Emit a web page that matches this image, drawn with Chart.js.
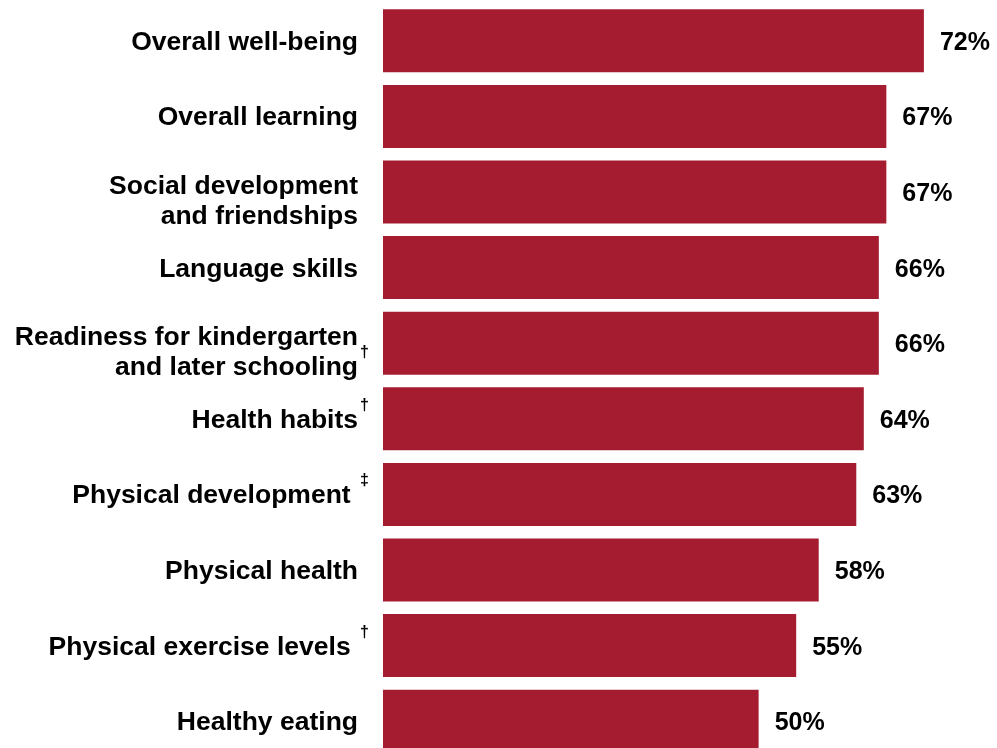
<!DOCTYPE html>
<html>
<head>
<meta charset="utf-8">
<script src="https://cdn.jsdelivr.net/npm/chart.js@4.4.0/dist/chart.umd.min.js"></script>
<style>
  html, body { margin: 0; padding: 0; background: #fff; overflow: hidden; }
  canvas { display: block; }
</style>
</head>
<body>
<canvas id="myChart" width="997" height="762"></canvas>
<script>
// category names, one entry per line of the label
const categories = [
	['Overall well-being'],
	['Overall learning'],
	['Social development', 'and friendships'],
	['Language skills'],
	['Readiness for kindergarten', 'and later schooling'],
	['Health habits'],
	['Physical development '],
	['Physical health'],
	['Physical exercise levels '],
	['Healthy eating']
];

// footnote marks next to some labels
const notes = ['', '', '', '', '\u2020', '\u2020', '\u2021', '', '\u2020', ''];

// percent of respondents
const values = [72, 67, 67, 66, 66, 64, 63, 58, 55, 50];

const FONT = "'Liberation Sans', Arial, sans-serif";
const LABEL_RIGHT = 358;

// category names drawn to the left of the bars
const categoryLabels = {
	id: 'categoryLabels',
	afterDraw(chart) {
		const ctx = chart.ctx;
		const yScale = chart.scales.y;
		ctx.save();
		ctx.fillStyle = '#000';
		ctx.textBaseline = 'alphabetic';
		categories.forEach((lines, i) => {
			const cy = yScale.getPixelForValue(i);
			const baselines = lines.length === 1 ? [cy + 9] : [cy + 2, cy + 32];
			ctx.font = 'bold 26.5px ' + FONT;
			ctx.textAlign = 'right';
			lines.forEach((line, j) => {
				ctx.fillText(line, LABEL_RIGHT, baselines[j]);
			});
			if (notes[i]) {
				ctx.font = 'bold 16px ' + FONT;
				ctx.textAlign = 'left';
				ctx.fillText(notes[i], LABEL_RIGHT + 2, baselines[baselines.length - 1] - 18);
			}
		});
		ctx.restore();
	}
};

// percentage at the end of every bar
const valueLabels = {
	id: 'valueLabels',
	afterDatasetsDraw(chart) {
		const ctx = chart.ctx;
		const meta = chart.getDatasetMeta(0);
		ctx.save();
		ctx.fillStyle = '#000';
		ctx.font = 'bold 25px ' + FONT;
		ctx.textAlign = 'left';
		ctx.textBaseline = 'alphabetic';
		meta.data.forEach((bar, i) => {
			ctx.fillText(values[i] + '%', bar.x + 16, bar.y + 9);
		});
		ctx.restore();
	}
};

const config = {
	type: 'bar',
	data: {
		labels: categories.map(c => c.join(' ')),
		datasets: [{
			data: values,
			backgroundColor: '#a51c30',
			borderWidth: 0,
			barPercentage: 0.833,
			categoryPercentage: 1
		}]
	},
	options: {
		indexAxis: 'y',
		responsive: false,
		animation: false,
		layout: {
			padding: { left: 383, right: 13, top: 3, bottom: 3 }
		},
		plugins: {
			legend: { display: false },
			tooltip: { enabled: false }
		},
		scales: {
			x: { display: false, min: 0, max: 80 },
			y: { display: false }
		}
	},
	plugins: [categoryLabels, valueLabels]
};

const chartt = new Chart(document.getElementById('myChart'), config);
</script>
</body>
</html>
